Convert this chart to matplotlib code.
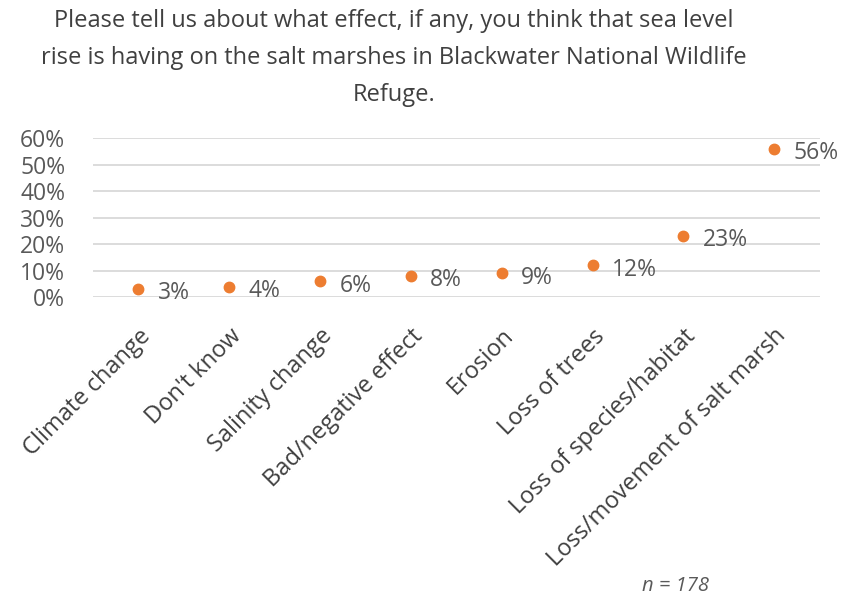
import matplotlib.pyplot as plt
import matplotlib.transforms as mtransforms
from matplotlib.ticker import PercentFormatter

plt.rcParams["font.family"] = ["Open Sans", "DejaVu Sans"]

categories = ["Climate change", "Don't know", "Salinity change", "Bad/negative effect",
              "Erosion", "Loss of trees", "Loss of species/habitat", "Loss/movement of salt marsh"]
values = [0.03, 0.04, 0.06, 0.08, 0.09, 0.12, 0.23, 0.56]
labels = ["3%", "4%", "6%", "8%", "9%", "12%", "23%", "56%"]
yticks = [0, 0.1, 0.2, 0.3, 0.4, 0.5, 0.6]

text_color = "#595959"
dark_text = "#404040"
dot_color = "#ED7D31"

fig = plt.figure(figsize=(8.45, 6.03), dpi=100)
ax = fig.add_axes([0.110, 0.507, 0.860, 0.264])

x = range(len(categories))
ax.plot(x, values, "o", color=dot_color, markersize=7.5, zorder=3)
for xi, v, lab in zip(x, values, labels):
    ax.annotate(lab, (xi, v), xytext=(14, -3), textcoords="offset points",
                ha="left", va="center", fontsize=16.5, color=text_color)

ax.set_xlim(-0.5, len(categories) - 0.5)
ax.set_ylim(0, 0.6)
ax.set_yticks(yticks)
ax.yaxis.set_major_formatter(PercentFormatter(1.0, decimals=0))
ax.grid(axis="y", color="#D9D9D9", linewidth=1.3)
ax.set_axisbelow(True)
for s in ax.spines.values():
    s.set_visible(False)
ax.tick_params(axis="y", length=0, labelsize=16.5, labelcolor=text_color, pad=20)
ax.tick_params(axis="x", length=0)
ax.set_xticks(list(x))
ax.set_xticklabels(categories, rotation=45, ha="right", rotation_mode="anchor",
                   fontsize=17, color=dark_text)
offset = mtransforms.ScaledTranslation(0.0, -0.22, fig.dpi_scale_trans)
for t in ax.get_xticklabels():
    t.set_transform(t.get_transform() + offset)

fig.text(0.466, 0.985,
         "Please tell us about what effect, if any, you think that sea level\n"
         "rise is having on the salt marshes in Blackwater National Wildlife\n"
         "Refuge.",
         ha="center", va="top", fontsize=17, color=dark_text, linespacing=1.72)

fig.text(0.80, 0.012, "n = 178", ha="center", va="bottom", fontsize=14.5,
         style="italic", color=text_color)

fig.savefig("out.png", dpi=100)
